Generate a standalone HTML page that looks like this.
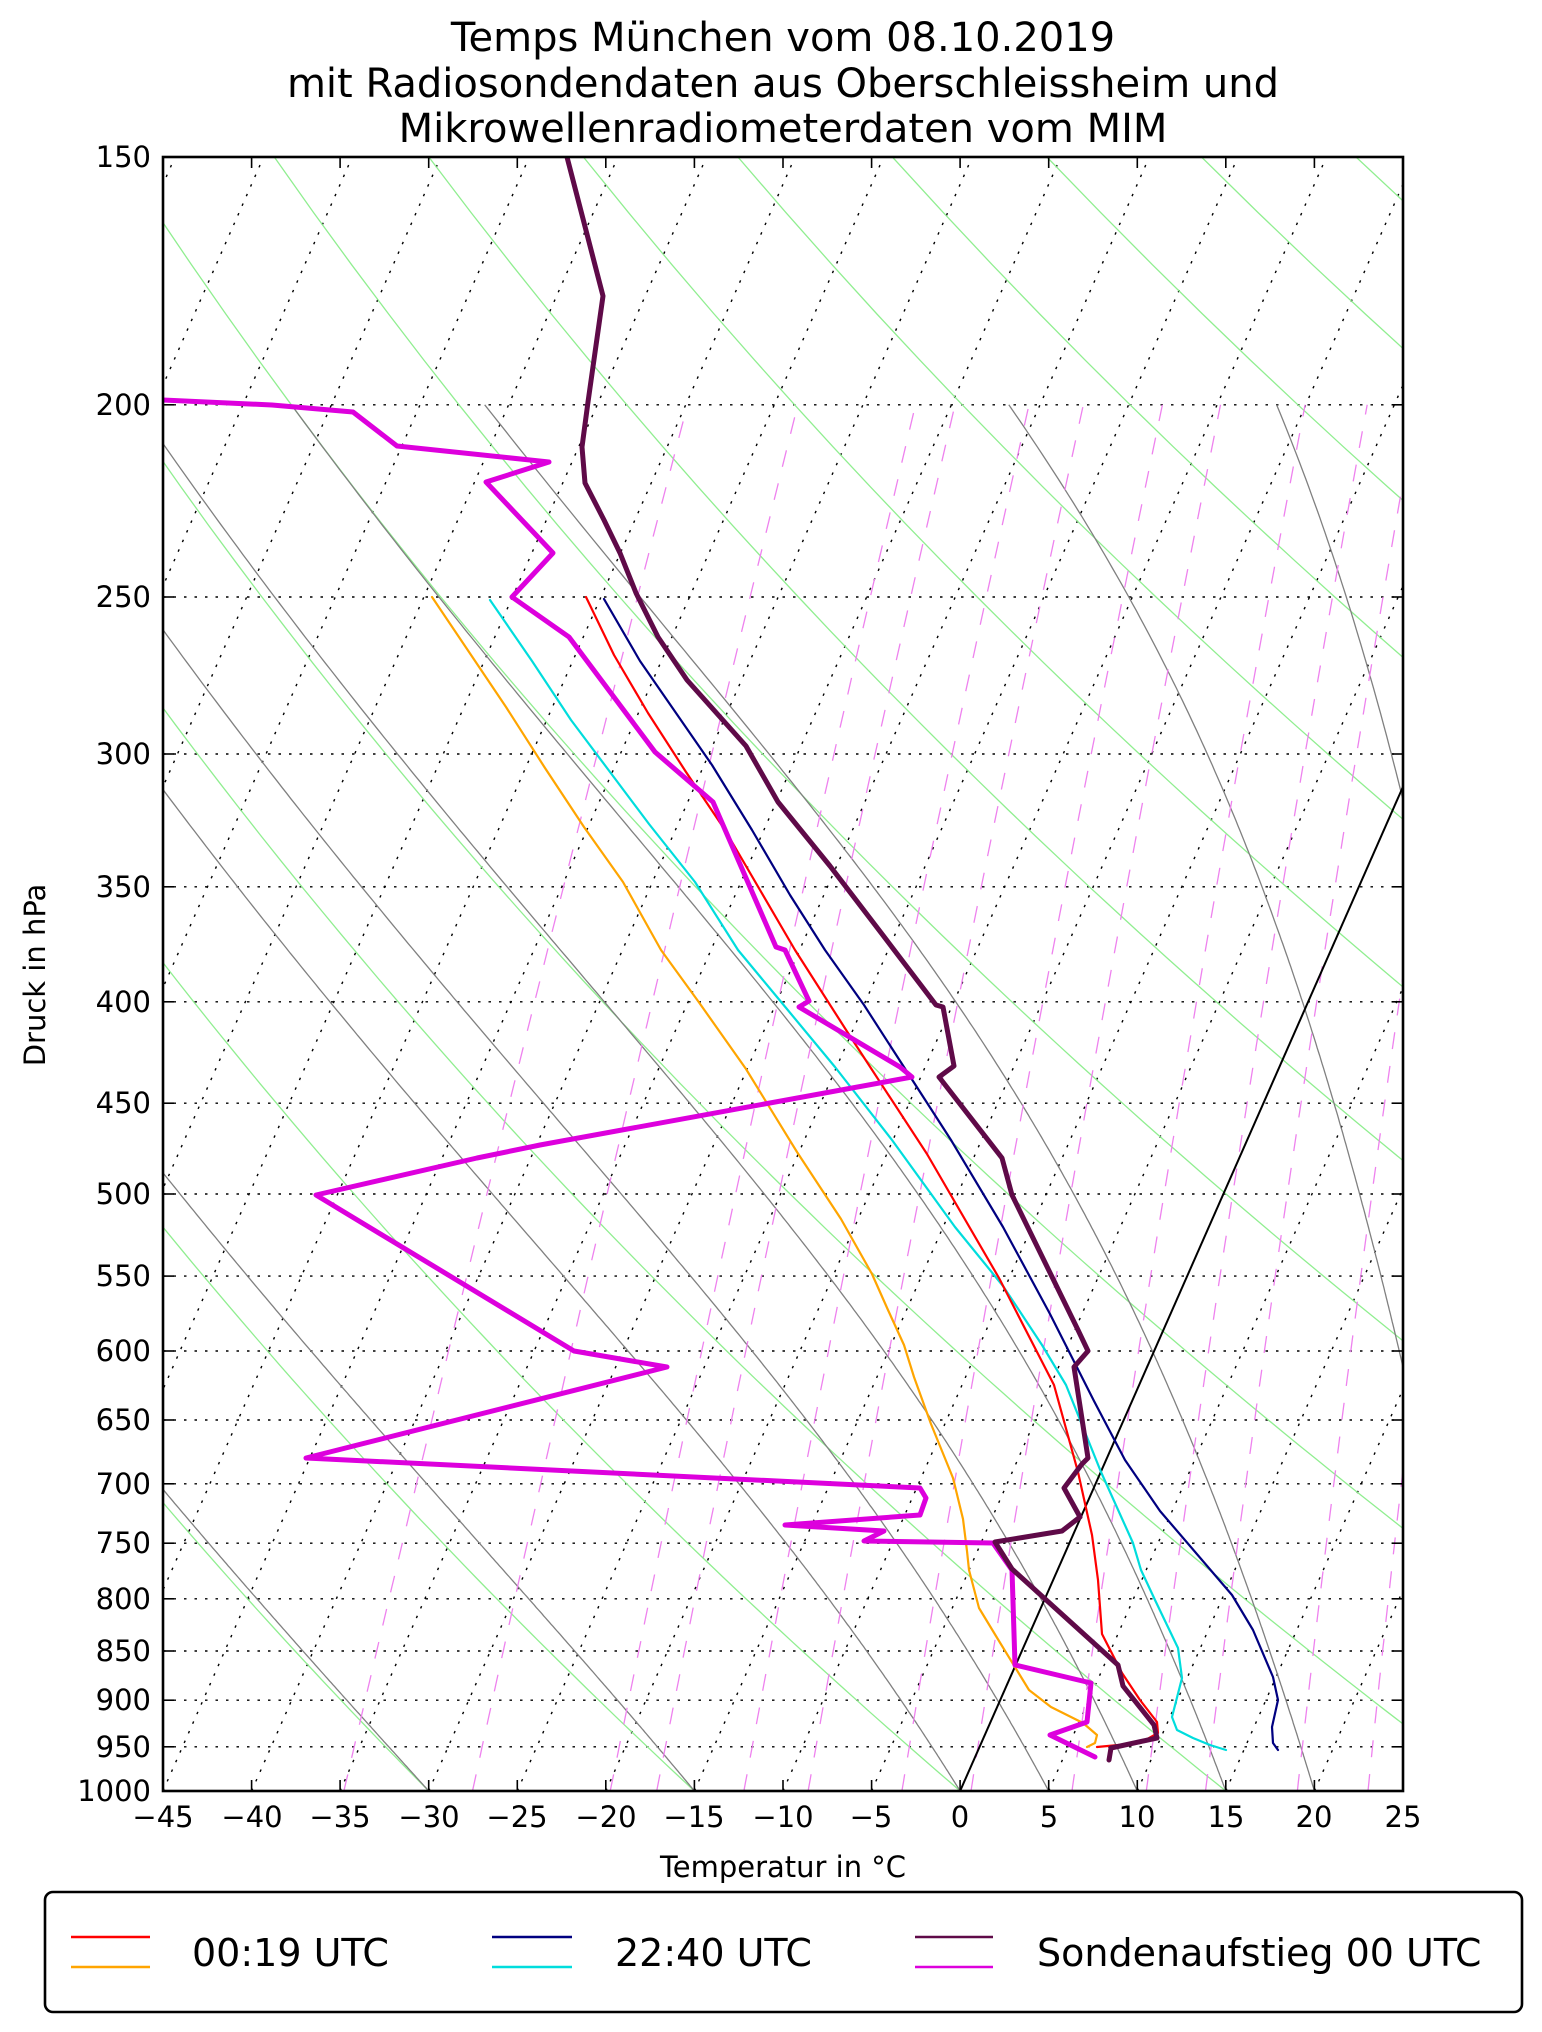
<!DOCTYPE html>
<html><head><meta charset="utf-8"><style>
html,body{margin:0;padding:0;background:#fff;}
svg{display:block;}
text{font-family:"DejaVu Sans","Liberation Sans",sans-serif;fill:#000;}
</style></head><body>
<svg id="s" width="1542" height="2032" viewBox="0 0 1542 2032" xmlns="http://www.w3.org/2000/svg">
<defs><clipPath id="cp"><rect x="163" y="157" width="1240" height="1634"/></clipPath></defs>
<g id="bg" clip-path="url(#cp)"></g>
<g id="data" clip-path="url(#cp)" fill="none" stroke-linejoin="round" stroke-linecap="round">
<polyline stroke="#ffa500" stroke-width="2.2" points="432,597 467,649 506,707 545,768 584,827 623,882 661,950 698,1001 746,1069 797,1152 841,1219 872,1274 888,1310 904,1345 914,1377 931,1424 953,1478 963,1519 967,1551 969,1570 979,1608 999,1641 1029,1690 1051,1707 1083,1723 1097,1735 1095,1743 1087,1747"/>
<polyline stroke="#00dddd" stroke-width="2.2" points="490,600 532,661 571,720 610,772 649,824 695,882 738,950 777,997 835,1067 892,1140 955,1227 1003,1286 1042,1345 1066,1385 1101,1472 1133,1543 1141,1570 1155,1600 1178,1648 1182,1678 1172,1717 1177,1730 1193,1738 1210,1745 1226,1750"/>
<polyline stroke="#ff0000" stroke-width="2.2" points="586,597 614,655 648,713 686,772 725,830 760,890 795,950 848,1033 927,1154 999,1278 1054,1385 1078,1472 1092,1535 1098,1580 1102,1634 1122,1673 1140,1700 1157,1722 1158,1733 1140,1743 1097,1747"/>
<polyline stroke="#000080" stroke-width="2.2" points="604,599 640,661 676,713 712,765 752,830 790,895 825,950 864,1005 951,1140 1003,1227 1050,1314 1094,1401 1125,1460 1160,1511 1232,1595 1253,1630 1273,1677 1278,1700 1272,1727 1273,1743 1278,1750"/>
<polyline stroke="#dd00dd" stroke-width="5" points="163,400 272,405 353,412 397,446 549,462 486,482 553,553 512,597 569,637 655,752 713,802 776,947 785,950 809,1001 799,1007 900,1067 912,1077 540,1145 477,1158 316,1195 574,1351 667,1367 306,1458 920,1488 926,1498 920,1515 785,1525 884,1531 864,1541 993,1543 1012,1570 1015,1665 1091,1683 1087,1722 1050,1735 1095,1757"/>
<polyline stroke="#5f0a48" stroke-width="5" points="567,157 603,296 588,402 582,447 585,483 604,520 620,553 636,593 658,637 687,680 746,746 778,802 830,866 882,934 936,1005 943,1007 954,1066 939,1077 1002,1158 1012,1195 1078,1330 1088,1351 1074,1367 1088,1458 1082,1464 1064,1488 1080,1517 1062,1531 995,1542 1012,1569 1118,1665 1123,1686 1154,1725 1157,1738 1111,1748 1109,1760"/>
</g>
<g id="axes"></g>
<rect x="163" y="157" width="1240" height="1634" fill="none" stroke="#000" stroke-width="2.6"/>
<g font-size="40" text-anchor="middle">
<text x="783" y="51">Temps München vom 08.10.2019</text>
<text x="783" y="97">mit Radiosondendaten aus Oberschleissheim und</text>
<text x="783" y="142">Mikrowellenradiometerdaten vom MIM</text>
</g>
<g font-size="29" text-anchor="end">
<text x="151" y="167">150</text><text x="151" y="415">200</text><text x="151" y="607">250</text><text x="151" y="764">300</text><text x="151" y="897">350</text><text x="151" y="1012">400</text><text x="151" y="1113">450</text><text x="151" y="1204">500</text><text x="151" y="1286">550</text><text x="151" y="1361">600</text><text x="151" y="1430">650</text><text x="151" y="1494">700</text><text x="151" y="1553">750</text><text x="151" y="1609">800</text><text x="151" y="1661">850</text><text x="151" y="1710">900</text><text x="151" y="1757">950</text><text x="151" y="1801">1000</text>
</g>
<g font-size="29" text-anchor="middle">
<text x="163" y="1827">−45</text><text x="252" y="1827">−40</text><text x="340" y="1827">−35</text><text x="429" y="1827">−30</text><text x="517" y="1827">−25</text><text x="606" y="1827">−20</text><text x="694" y="1827">−15</text><text x="783" y="1827">−10</text><text x="871" y="1827">−5</text><text x="960" y="1827">0</text><text x="1049" y="1827">5</text><text x="1137" y="1827">10</text><text x="1226" y="1827">15</text><text x="1314" y="1827">20</text><text x="1403" y="1827">25</text>
<text x="783" y="1877">Temperatur in °C</text>
<text transform="translate(45,975) rotate(-90)">Druck in hPa</text>
</g>
<rect x="45" y="1892" width="1477" height="120" rx="8" fill="#fff" stroke="#000" stroke-width="2.6"/>
<g stroke-width="2.6">
<line x1="71" y1="1937" x2="150" y2="1937" stroke="#ff0000"/><line x1="71" y1="1967" x2="150" y2="1967" stroke="#ffa500"/>
<line x1="492" y1="1937" x2="572" y2="1937" stroke="#000080"/><line x1="492" y1="1967" x2="572" y2="1967" stroke="#00dddd"/>
<line x1="915" y1="1937" x2="993" y2="1937" stroke="#5f0a48"/><line x1="915" y1="1967" x2="993" y2="1967" stroke="#dd00dd"/>
</g>
<g font-size="38">
<text x="192" y="1966">00:19 UTC</text><text x="615" y="1966">22:40 UTC</text><text x="1037" y="1966">Sondenaufstieg 00 UTC</text>
</g>
</svg>
<script>
(function(){
var NS="http://www.w3.org/2000/svg";
var X0=163,Y0=157,Y1=1791,PPC=17.714,SK=0.441,LF=861.3;
function yP(p){return Y0+LF*Math.log(p/150);}
function xT(T,p){return X0+(T+45)*PPC+SK*(Y1-yP(p));}
var bg=document.getElementById('bg'),ax=document.getElementById('axes');
function line(g,pts,attrs){var e=document.createElementNS(NS,'polyline');e.setAttribute('points',pts.map(function(a){return a[0].toFixed(1)+','+a[1].toFixed(1);}).join(' '));e.setAttribute('fill','none');for(var k in attrs)e.setAttribute(k,attrs[k]);g.appendChild(e);}
for(var p=200;p<1000;p+=50){var y=yP(p);line(bg,[[X0,y],[1403,y]],{stroke:'#000','stroke-width':1.4,'stroke-dasharray':'2.5,8'});}
for(var T=-90;T<=25;T+=5){line(bg,[[xT(T,1000),Y1],[xT(T,150),Y0]],{stroke:'#000','stroke-width':1.4,'stroke-dasharray':'2.5,8'});}
for(var th=-30;th<=240;th+=15){var pts=[];for(var p=1000;p>=150;p-=10){var T=(th+273.15)*Math.pow(p/1000,0.2857)-273.15;pts.push([xT(T,p),yP(p)]);}line(bg,pts,{stroke:'#90ee90','stroke-width':1.3});}
function es(T){var t=T-273.15;return 6.112*Math.exp(17.67*t/(t+243.5));}
function dTdp(T,p){var e=es(T),rs=0.622*e/(p-e);var Rd=287.04,Cp=1005.7,Lv=2.501e6;return (Rd*T+Lv*rs)/(p*(Cp+Lv*Lv*rs*0.622/(Rd*T*T)));}
[-30,-15,0,5,10,15,20,30,35].forEach(function(T0){var T=T0+273.15,p=1000,pts=[[xT(T0,1000),yP(1000)]];var dp=-2;while(p>200){var k1=dTdp(T,p);var k2=dTdp(T+k1*dp,p+dp);T+=0.5*(k1+k2)*dp;p+=dp;pts.push([xT(T-273.15,p),yP(p)]);}line(bg,pts,{stroke:'#808080','stroke-width':1.3});});
[0.2,0.4,0.8,1,1.5,2,3,4,6,8,10,14,18,22].forEach(function(w){var pts=[];for(var p=1000;p>=200;p-=10){var e=w*p/(622+w);var l=Math.log(e/6.112);var Td=243.5*l/(17.67-l);pts.push([xT(Td,p),yP(p)]);}line(bg,pts,{stroke:'#ee82ee','stroke-width':1.3,'stroke-dasharray':'17,17'});});
line(bg,[[xT(0,1000),Y1],[xT(0,150),Y0]],{stroke:'#000','stroke-width':2});
for(var T=-45;T<=25;T+=5){var x=X0+(T+45)*PPC;line(ax,[[x,Y1],[x,Y1-11]],{stroke:'#000','stroke-width':1.6});line(ax,[[x,Y0],[x,Y0+11]],{stroke:'#000','stroke-width':1.6});}
for(var p=150;p<=1000;p+=50){var y=yP(p);line(ax,[[X0,y],[X0+11,y]],{stroke:'#000','stroke-width':1.6});line(ax,[[1403,y],[1392,y]],{stroke:'#000','stroke-width':1.6});}
})();
</script>
</body></html>
